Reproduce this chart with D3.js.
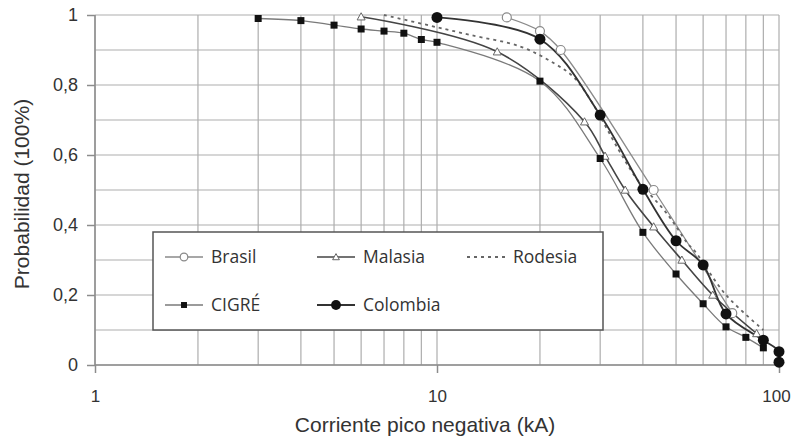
<!DOCTYPE html>
<html><head><meta charset="utf-8">
<script src="https://cdn.jsdelivr.net/npm/d3@7"></script>
<style>
html,body{margin:0;padding:0;background:#fff;}
svg{display:block;}
</style></head>
<body>
<svg id="chart" width="793" height="439"></svg>
<script>
// ---- data ----
const brasilX = [16, 20, 23, 43, 73];
const brasilY = [0.993, 0.954, 0.90, 0.50, 0.148];
const malasiaX = [6, 15, 27, 31, 35.5, 43, 52, 64, 86];
const malasiaY = [0.995, 0.895, 0.695, 0.597, 0.50, 0.395, 0.30, 0.20, 0.09];
const rodesiaX = [7, 10, 12.5, 17.5, 22, 25, 28, 34, 38.5, 47, 54, 57, 70, 90];
const rodesiaY = [1.0, 0.965, 0.943, 0.91, 0.862, 0.824, 0.76, 0.614, 0.53, 0.433, 0.348, 0.323, 0.20, 0.10];
const cigreX = [3, 4, 5, 6, 7, 8, 9, 10, 20, 30, 40, 50, 60, 70, 80, 90];
const cigreY = [0.99, 0.984, 0.971, 0.96, 0.954, 0.948, 0.93, 0.922, 0.811, 0.59, 0.379, 0.26, 0.175, 0.109, 0.079, 0.049];
const colombiaX = [10, 20, 30, 40, 50, 60, 70, 90, 100, 100];
const colombiaY = [0.993, 0.931, 0.714, 0.502, 0.355, 0.286, 0.146, 0.071, 0.038, 0.008];
const xTickValues = [1, 10, 100];
const xTickLabels = ["1", "10", "100"];
const yTickValues = [0, 0.2, 0.4, 0.6, 0.8, 1];
const yTickLabels = ["0", "0,2", "0,4", "0,6", "0,8", "1"];
const yGridValues = [0, 0.1, 0.2, 0.3, 0.4, 0.5, 0.6, 0.7, 0.8, 0.9, 1];
const xTitle = "Corriente pico negativa (kA)";
const yTitle = "Probabilidad (100%)";

// ---- layout ----
const svg = d3.select("#chart");
const L = 95, R = 779, T = 15, B = 365;
const x = d3.scaleLog().domain([1, 100]).range([L, R]);
const y = d3.scaleLinear().domain([0, 1]).range([B, T]);
const axisFont = "'Liberation Sans', Arial, sans-serif";
const legendFont = "'Open Sans', 'Noto Sans', sans-serif";

// grid
const grid = svg.append("g");
grid.selectAll("line.v").data(x.ticks()).join("line")
  .attr("x1", d => x(d)).attr("x2", d => x(d)).attr("y1", T).attr("y2", B)
  .attr("stroke", "#adadad").attr("stroke-width", 1.2);
grid.selectAll("line.h").data(yGridValues).join("line")
  .attr("x1", L).attr("x2", R).attr("y1", d => y(d)).attr("y2", d => y(d))
  .attr("stroke", "#adadad").attr("stroke-width", 1.2);

// axes
const yAxis = d3.axisLeft(y).tickValues(yTickValues).tickFormat((d, i) => yTickLabels[i]).tickSize(8).tickPadding(9);
const gy = svg.append("g").attr("transform", `translate(${L},0)`).call(yAxis);
const xAxis = d3.axisBottom(x).tickValues(xTickValues).tickFormat((d, i) => xTickLabels[i]).tickSize(8).tickPadding(17);
const gx = svg.append("g").attr("transform", `translate(0,${B})`).call(xAxis);
[gx, gy].forEach(g => {
  g.select(".domain").attr("stroke", "#8c8c8c").attr("stroke-width", 1.5);
  g.selectAll(".tick line").attr("stroke", "#8c8c8c").attr("stroke-width", 1.5);
  g.selectAll(".tick text").attr("fill", "#333").style("font-family", axisFont).style("font-size", "18px");
});
gx.selectAll(".tick text").style("font-size", "17px");
gx.selectAll(".tick text").filter((d, i, n) => i === n.length - 1).attr("dx", "-3");
gy.select(".domain").attr("d", `M0,${B}V${T}`);
gx.select(".domain").attr("d", `M${L},0H${R}`);

// titles
svg.append("text").attr("x", 425).attr("y", 432).attr("text-anchor", "middle")
  .style("font-family", axisFont).style("font-size", "21px").attr("fill", "#333").text(xTitle);
svg.append("text").attr("transform", "translate(29,194) rotate(-90)").attr("text-anchor", "middle")
  .style("font-family", axisFont).style("font-size", "21px").attr("fill", "#333").text(yTitle);

// series
const pts = (xs, ys) => xs.map((v, i) => [v, ys[i]]);
const line = d3.line().x(d => x(d[0])).y(d => y(d[1])).curve(d3.curveCatmullRom.alpha(0.5));
const series = [
  {name: "Brasil", data: pts(brasilX, brasilY), stroke: "#8a8a8a", width: 1.3, dash: null, marker: "ocircle"},
  {name: "Malasia", data: pts(malasiaX, malasiaY), stroke: "#444", width: 1.6, dash: null, marker: "tri"},
  {name: "Rodesia", data: pts(rodesiaX, rodesiaY), stroke: "#666", width: 1.8, dash: "3,4", marker: null},
  {name: "CIGRÉ", data: pts(cigreX, cigreY), stroke: "#7a7a7a", width: 1.3, dash: null, marker: "square"},
  {name: "Colombia", data: pts(colombiaX, colombiaY), stroke: "#333", width: 1.8, dash: null, marker: "dot"}
];

function drawMarker(g, type, cx, cy, scale) {
  const s = scale || 1;
  if (type === "ocircle") {
    g.append("circle").attr("cx", cx).attr("cy", cy).attr("r", 4.5 * s)
      .attr("fill", "#fff").attr("stroke", "#8a8a8a").attr("stroke-width", 1.2);
  } else if (type === "tri") {
    const h = 4 * s;
    g.append("path").attr("d", `M${cx},${cy - h}L${cx + h},${cy + h * 0.8}L${cx - h},${cy + h * 0.8}Z`)
      .attr("fill", "#fff").attr("stroke", "#666").attr("stroke-width", 1);
  } else if (type === "square") {
    const a = 3.5 * s;
    g.append("rect").attr("x", cx - a).attr("y", cy - a).attr("width", 2 * a).attr("height", 2 * a)
      .attr("fill", "#111");
  } else if (type === "dot") {
    g.append("circle").attr("cx", cx).attr("cy", cy).attr("r", 5.5 * s).attr("fill", "#111");
  }
}

const gs = svg.append("g");
series.forEach(s => {
  gs.append("path").datum(s.data).attr("d", line).attr("fill", "none")
    .attr("stroke", s.stroke).attr("stroke-width", s.width)
    .attr("stroke-dasharray", s.dash);
});
series.forEach(s => {
  if (!s.marker) return;
  const g = gs.append("g");
  s.data.forEach(d => drawMarker(g, s.marker, x(d[0]), y(d[1])));
});

// legend
const lg = svg.append("g");
lg.append("rect").attr("x", 153).attr("y", 232).attr("width", 450).attr("height", 98)
  .attr("fill", "#fff").attr("stroke", "#555").attr("stroke-width", 1.5);
const legendPos = [
  {x: 165, y: 257}, {x: 317, y: 257}, {x: 467, y: 257},
  {x: 165, y: 305}, {x: 317, y: 305}
];
series.forEach((s, i) => {
  const p = legendPos[i];
  lg.append("line").attr("x1", p.x).attr("x2", p.x + 38).attr("y1", p.y).attr("y2", p.y)
    .attr("stroke", s.stroke).attr("stroke-width", s.width).attr("stroke-dasharray", s.dash);
  if (s.marker) drawMarker(lg, s.marker, p.x + 19, p.y, s.marker === "dot" ? 0.9 : 0.85);
  lg.append("text").attr("x", p.x + 46).attr("y", p.y).attr("dy", "0.35em")
    .style("font-family", legendFont).style("font-size", "17.5px").attr("fill", "#333").text(s.name);
});
</script>
</body></html>
